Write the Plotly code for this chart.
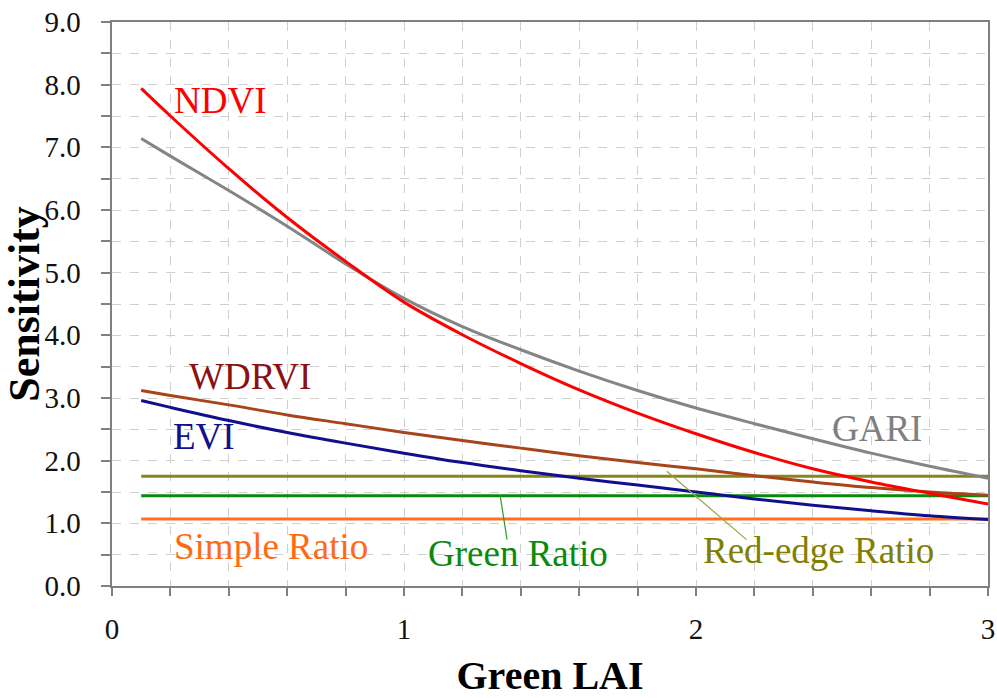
import plotly.graph_objects as go

lai = [0.1, 0.2, 0.4, 0.6, 0.8, 1.0, 1.2, 1.4, 1.6, 1.8, 2.0, 2.2, 2.4, 2.6, 2.8, 3.0]
ndvi = [7.94, 7.50, 6.66, 5.88, 5.18, 4.53, 4.01, 3.55, 3.13, 2.76, 2.43, 2.13, 1.87, 1.66, 1.48, 1.31]
gari = [7.14, 6.86, 6.31, 5.74, 5.14, 4.59, 4.14, 3.77, 3.43, 3.12, 2.84, 2.59, 2.35, 2.12, 1.91, 1.72]
wdrvi = [3.12, 3.04, 2.89, 2.73, 2.59, 2.45, 2.32, 2.20, 2.08, 1.97, 1.87, 1.76, 1.66, 1.57, 1.50, 1.45]
evi = [2.96, 2.85, 2.64, 2.45, 2.28, 2.12, 1.97, 1.84, 1.72, 1.61, 1.50, 1.39, 1.29, 1.20, 1.12, 1.06]
red_edge_ratio = [1.75] * len(lai)
green_ratio = [1.44] * len(lai)
simple_ratio = [1.07] * len(lai)

FONT = "Liberation Serif"

series = [
    ("Simple Ratio", simple_ratio, "#FF7020"),
    ("Green Ratio", green_ratio, "#078A07"),
    ("Red-edge Ratio", red_edge_ratio, "#86861A"),
    ("EVI", evi, "#10108C"),
    ("WDRVI", wdrvi, "#A8441A"),
    ("GARI", gari, "#858585"),
    ("NDVI", ndvi, "#FF0000"),
]

fig = go.Figure()
for name, ys, col in series:
    fig.add_trace(go.Scatter(x=lai, y=ys, mode="lines", name=name,
                             line=dict(color=col, width=3, shape="spline", smoothing=1.0)))

# labels: (text, x, y, color)
labels = [
    ("NDVI", 0.37, 7.74, "#FF0000"),
    ("GARI", 2.62, 2.51, "#808080"),
    ("WDRVI", 0.473, 3.34, "#8B1010"),
    ("EVI", 0.315, 2.38, "#10108C"),
    ("Simple Ratio", 0.545, 0.63, "#FF6A13"),
    ("Green Ratio", 1.389, 0.52, "#0A8A0A"),
    ("Red-edge Ratio", 2.418, 0.56, "#808000"),
]
for t, x, y, c in labels:
    fig.add_annotation(x=x, y=y, text=t, showarrow=False, xanchor="center", yanchor="middle",
                       font=dict(family=FONT, size=37, color=c))

# leader lines
leaders = [
    (1.329, 1.45, 1.353, 0.74, "#2E9A2E"),
    (1.90, 1.83, 2.173, 0.74, "#A0A040"),
]
for x0, y0, x1, y1, c in leaders:
    fig.add_shape(type="line", x0=x0, y0=y0, x1=x1, y1=y1, xref="x", yref="y",
                  line=dict(color=c, width=1.2))

axis_color = "#808080"
grid_color = "#CFCFCF"

fig.update_xaxes(
    range=[0, 3], dtick=1, tick0=0, ticks="outside", ticklen=8, tickcolor=axis_color, tickwidth=1.5,
    showline=True, linecolor=axis_color, linewidth=2, mirror=True,
    showgrid=True, gridcolor=grid_color, griddash="dash", gridwidth=1,
    zeroline=False, automargin=False, ticklabelstandoff=8,
    tickfont=dict(family=FONT, size=29, color="#111111"),
    minor=dict(dtick=0.2, ticks="outside", ticklen=8, tickcolor=axis_color, tickwidth=1.5,
               showgrid=True, gridcolor=grid_color, griddash="dash", gridwidth=1),
    title=dict(text="<b>Green LAI</b>", font=dict(family=FONT, size=40, color="#000000"), standoff=30),
)
fig.update_yaxes(
    range=[0, 9], dtick=1, tick0=0, tickformat=".1f", ticks="outside", ticklen=9, tickcolor=axis_color,
    tickwidth=1.5, ticksuffix="\u2002",
    showline=True, linecolor=axis_color, linewidth=2, mirror=True,
    showgrid=True, gridcolor=grid_color, griddash="dash", gridwidth=1,
    zeroline=False, automargin=False,
    tickfont=dict(family=FONT, size=29, color="#111111"),
    minor=dict(dtick=0.5, ticks="outside", ticklen=9, tickcolor=axis_color, tickwidth=1.5,
               showgrid=True, gridcolor=grid_color, griddash="dash", gridwidth=1),
    title=dict(text="<b>Sensitivity</b>", font=dict(family=FONT, size=44, color="#000000"), standoff=0),
)

fig.update_layout(
    width=997, height=698,
    margin=dict(l=112, r=9, t=22, b=112),
    plot_bgcolor="white", paper_bgcolor="white",
    showlegend=False,
)

fig.write_html("out.html")
